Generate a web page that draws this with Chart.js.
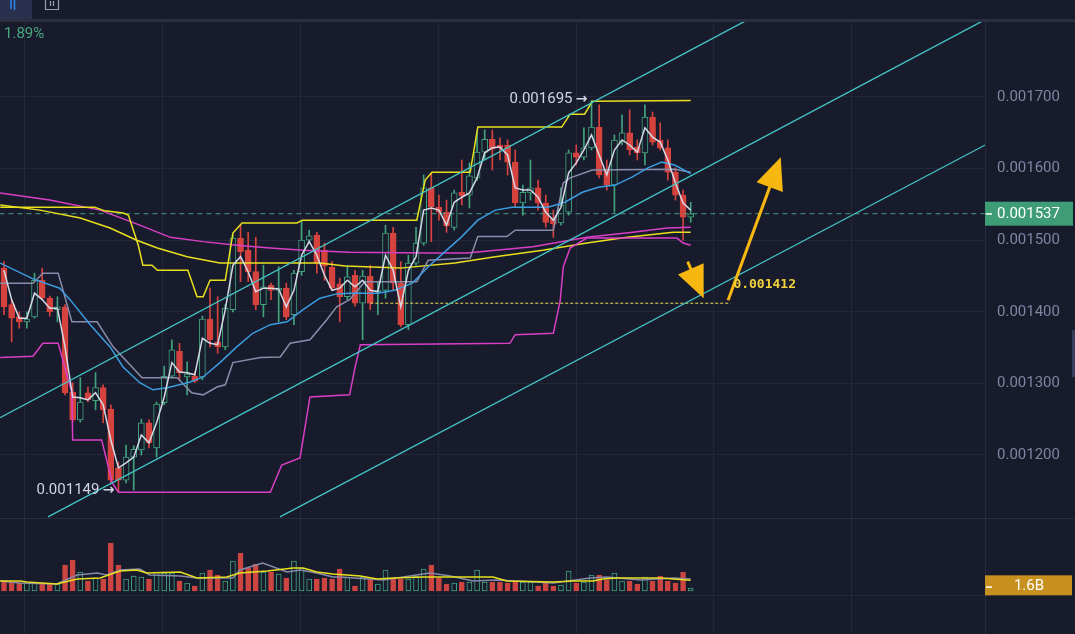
<!DOCTYPE html>
<html>
<head>
<meta charset="utf-8">
<script src="https://cdn.jsdelivr.net/npm/chart.js@4.4.1/dist/chart.umd.min.js"></script>
<style>
  html, body { margin: 0; padding: 0; background: #181b2c; }
  canvas { display: block; }
</style>
</head>
<body>
<canvas id="chart" width="1075" height="634"></canvas>
<script>
// prices are kept in millionths (1537 -> 0.001537), volume in billions
const open = [1461,1410,1393,1386,1393,1444,1419,1403,1407,1288,
  1249,1287,1276,1294,1264,1182,1165,1197,1207,1245,
  1210,1273,1310,1345,1309,1310,1309,1390,1358,1351,
  1403,1503,1486,1456,1410,1437,1430,1433,1396,1456,
  1500,1507,1486,1462,1439,1421,1451,1412,1450,1428,
  1430,1510,1440,1382,1468,1496,1573,1546,1539,1518,
  1567,1563,1587,1623,1641,1633,1633,1609,1552,1566,
  1573,1552,1530,1524,1539,1622,1616,1629,1658,1598,
  1577,1637,1650,1630,1622,1672,1640,1629,1595,1563,
  1532];
const close = [1407,1391,1386,1390,1444,1419,1400,1407,1287,1249,
  1274,1277,1294,1263,1165,1165,1197,1208,1245,1217,
  1271,1310,1347,1315,1313,1303,1390,1361,1351,1405,
  1503,1484,1456,1410,1435,1430,1433,1393,1454,1500,
  1506,1468,1464,1433,1421,1449,1412,1450,1412,1430,
  1510,1440,1382,1468,1496,1573,1546,1539,1520,1566,
  1562,1590,1623,1641,1627,1629,1609,1552,1567,1573,
  1552,1525,1523,1549,1622,1616,1629,1658,1591,1577,
  1640,1650,1626,1622,1672,1637,1629,1595,1563,1532,
  1537];
const high = [1470,1417,1400,1400,1454,1461,1422,1421,1410,1301,
  1308,1295,1315,1298,1270,1190,1214,1213,1250,1249,
  1274,1324,1361,1356,1330,1316,1394,1433,1421,1410,
  1507,1521,1511,1504,1465,1440,1463,1440,1458,1528,
  1514,1511,1496,1470,1447,1465,1458,1458,1465,1442,
  1521,1518,1470,1479,1518,1591,1594,1563,1556,1570,
  1612,1608,1651,1654,1654,1643,1640,1626,1577,1612,
  1584,1563,1542,1573,1626,1633,1657,1695,1689,1612,
  1647,1675,1682,1640,1689,1679,1664,1640,1601,1570,
  1553];
const low = [1396,1358,1377,1377,1391,1417,1394,1386,1284,1246,
  1246,1274,1263,1245,1161,1149,1161,1151,1200,1210,
  1197,1270,1308,1305,1284,1301,1305,1351,1342,1347,
  1400,1442,1442,1403,1393,1417,1386,1389,1382,1451,
  1498,1454,1444,1430,1386,1417,1408,1361,1403,1396,
  1419,1430,1379,1375,1465,1493,1498,1528,1511,1514,
  1549,1545,1584,1612,1598,1612,1591,1546,1535,1556,
  1542,1518,1504,1521,1535,1605,1612,1626,1587,1570,
  1539,1633,1619,1612,1605,1633,1626,1584,1556,1500,
  1525];
const volume = [1.5,1.35,1.2,1.2,1.2,1.2,1.2,1.05,3.9,4.65,
  2.85,1.5,1.95,1.8,7.2,3.9,1.8,2.25,2.1,1.8,
  2.85,2.7,2.7,1.5,1.2,0.75,2.7,3.15,2.4,1.5,
  4.5,5.7,3.45,4.05,2.85,2.85,2.55,1.95,4.5,3.45,
  1.8,1.8,1.95,1.8,3.3,2.1,0.75,2.1,1.8,1.05,
  3.15,1.8,1.8,1.8,2.25,3.3,3.9,1.95,1.05,1.2,
  1.35,1.35,3.15,1.35,1.35,1.35,1.2,1.35,1.35,1.35,
  0.75,1.2,0.75,0.9,3.0,1.2,1.35,2.4,2.4,1.65,
  2.7,1.5,1.5,1.05,2.1,1.5,2.25,1.5,1.2,2.85,
  0.45];

// fast moving average (white), one value per bar
const maFast = [1458,1417,1391,1391,1426,1417,1405,1405,1351,1281,
  1280,1277,1287,1270,1221,1182,1189,1197,1228,1217,
  1245,1281,1329,1316,1315,1312,1363,1356,1354,1403,
  1465,1477,1456,1428,1433,1433,1432,1407,1430,1479,
  1498,1479,1451,1430,1433,1444,1435,1444,1430,1428,
  1479,1458,1407,1458,1477,1542,1545,1542,1521,1553,
  1560,1566,1587,1622,1629,1630,1619,1573,1570,1570,
  1560,1539,1528,1546,1594,1608,1626,1647,1619,1591,
  1626,1640,1633,1623,1657,1644,1637,1612,1580,1552,
  1542];

// indicator readings: bar position -> value
const maMidX = [-0.5,3.8,7.3,8.65,11.3,13.9,15.6,17.8,19.5,21.4,24.4,26.1,28.3,30.5,32.6,34.9,37.1,39.2,41.4,43.6,45.3,49,51.2,53.5,55.6,57.8,60,62.1,64.4,66.6,71.3,73.5,75.8,77.9,80.1,82.3,84.4,86.2,87.9,90];
const maMidY = [1468,1446,1433,1417,1382,1351,1323,1301,1291,1294,1302,1309,1329,1351,1370,1382,1386,1403,1419,1425,1426,1426,1430,1440,1463,1484,1505,1528,1542,1546,1546,1553,1567,1574,1577,1588,1601,1609,1605,1593];
const baseX = [-0.5,3.8,5.1,7.1,8.9,12.2,14.3,18.1,22.7,24.6,26.1,27.9,29.0,30.0,33.6,36.2,37.5,40.1,42.3,43.6,45.3,47.3,54.1,55.6,61.1,62.1,65.9,67.0,72.0,73.3,74.2,77.1,87.9,90];
const baseY = [1440,1440,1454,1454,1386,1386,1351,1308,1308,1287,1284,1295,1298,1329,1336,1337,1356,1361,1389,1407,1417,1442,1442,1472,1475,1505,1505,1514,1514,1580,1587,1598,1599,1595];
const donHiX = [-0.5,11.9,13.2,15.6,16.3,17.6,18.2,19.4,20.1,24.1,25.3,26.1,27.0,29.0,30.0,31.2,38.4,39.1,54.1,55.2,56.1,61.1,62.1,73.1,74.2,76.1,77.1,90];
const donHiY = [1546,1546,1541,1538,1535,1493,1465,1465,1458,1458,1421,1421,1444,1444,1510,1524,1524,1528,1528,1584,1595,1595,1658,1658,1676,1676,1694,1695];
const donLoX = [-0.5,3.8,5.1,7.1,8.9,9.0,12.8,14.2,15,34.9,36.4,38.8,40.1,45.3,46,46.7,66.3,67,72,72.9,73.3,74.2,76.4,88.2,89,90];
const donLoY = [1336,1338,1356,1356,1287,1221,1221,1161,1148,1148,1186,1196,1281,1284,1322,1354,1356,1368,1370,1416,1463,1489,1503,1503,1496,1493];
const maSlowX = [-0.5,4.7,10,13.9,17.4,20.1,24,28.3,41.4,44.7,51.9,59.1,64.4,70.6,76.4,81.7,87.7,90];
const maSlowY = [1549,1542,1531,1517,1500,1489,1477,1468,1468,1464,1461,1468,1477,1486,1496,1504,1511,1511];
const maLongX = [-0.5,6,12.6,17.8,21.8,26.1,30.5,34.9,39.2,45.3,55.6,60.7,69.3,76.4,82.4,86.9,90];
const maLongY = [1566,1556,1542,1521,1504,1498,1493,1489,1486,1483,1482,1482,1491,1504,1511,1517,1518];

const volMaX = [-0.5,2.1,3.0,6.9,9.6,12.6,15.2,17.4,18.7,23.1,25.3,29.2,30.9,34.5,37.9,39.2,41.0,43.1,46.7,48.9,51.0,54.9,59.4,64.1,65.9,72.0,74.6,77.2,78.5,80.3,86.0,90];
const volMaY = [1.5,1.5,1.35,1.05,1.8,1.95,3.0,3.15,2.7,2.85,1.95,2.1,2.7,3.0,3.45,3.45,2.85,2.55,2.25,1.8,1.95,2.1,2.1,2.1,1.5,1.35,1.5,1.5,1.8,1.95,1.95,1.6];
const volMa2X = [-0.5,2.1,6.9,9.6,12.2,13.5,15.2,17.8,19.1,23.1,25.3,30.0,30.9,33.9,37.1,38.8,41.0,43.1,44.0,49.7,55.8,58.5,61.5,64.6,72.0,76.8,79.0,83.4,87.7,90];
const volMa2Y = [1.5,1.2,1.05,2.4,2.7,2.4,3.15,3.3,2.4,2.25,1.95,1.95,3.15,4.2,2.85,3.15,2.7,2.1,2.1,1.65,2.7,2.25,1.5,1.65,1.2,1.95,2.1,1.65,1.95,1.8];

// hand-drawn channel and arrows (bar position, price)
const chanAX = [-0.52, 97.5],  chanAY = [1252, 1808];
const chanBX = [5.77, 128.6],  chanBY = [1113.5, 1808];
const chanCX = [36.17, 128.6], chanCY = [1113.5, 1633];
const arrowDownX = [89.6, 91.7], arrowDownY = [1470, 1419];
const arrowUpX = [94.9, 101.8],  arrowUpY = [1416, 1616];
const targetLevel = 1412, targetX = [48, 95.2];

const priceTicks = [1200, 1300, 1400, 1500, 1600, 1700];
const timeGrid = [2.75, 20.8, 38.9, 56.9, 75.0, 93.0, 111.1];

const BG = '#181b2c', GRID = '#232739';
const UP = '#41a37c', DOWN = '#d6433e';
const PANE_SPLIT = 518;

const idx = close.map((_, i) => i);
const up = i => close[i] >= open[i];
const pts = (xs, ys) => xs.map((x, k) => ({ x, y: ys[k] }));
const lastPrice = close[close.length - 1];
const fmt = v => (v / 1e6).toFixed(6);

function lineDs(data, color, width, order, extra) {
  return Object.assign({
    type: 'line', data, borderColor: color, borderWidth: width,
    pointRadius: 0, fill: false, tension: 0, order, yAxisID: 'y'
  }, extra || {});
}

function drawArrow(c, x1, y1, x2, y2, color) {
  const dx = x2 - x1, dy = y2 - y1, len = Math.hypot(dx, dy);
  const ux = dx / len, uy = dy / len;
  const headL = 32, headW = 14;
  const bx = x2 - ux * headL, by = y2 - uy * headL;
  c.strokeStyle = color; c.fillStyle = color; c.lineWidth = 3;
  c.beginPath(); c.moveTo(x1, y1); c.lineTo(bx + ux * 3, by + uy * 3); c.stroke();
  c.beginPath();
  c.moveTo(x2, y2);
  c.lineTo(bx - uy * headW, by + ux * headW);
  c.lineTo(bx + uy * headW, by - ux * headW);
  c.closePath(); c.fill();
}

function markText(c, text, xRight, y) {
  c.textAlign = 'right';
  c.font = '15px Roboto';
  c.fillText(text, xRight - 15, y);
  c.font = 'bold 14px "DejaVu Sans"';
  c.fillText('\u2192', xRight, y);
}

const overlay = {
  id: 'overlay',
  beforeDraw(chart) {
    const c = chart.ctx;
    c.save(); c.fillStyle = BG; c.fillRect(0, 0, chart.width, chart.height); c.restore();
  },
  afterDraw(chart) {
    const c = chart.ctx, sx = chart.scales.x, sy = chart.scales.y, sv = chart.scales.yv;
    const right = chart.chartArea.right;
    c.save();

    // pane lines
    c.strokeStyle = '#2a2e41'; c.lineWidth = 1;
    c.beginPath(); c.moveTo(0, PANE_SPLIT + 0.5); c.lineTo(chart.width, PANE_SPLIT + 0.5); c.stroke();
    c.strokeStyle = GRID;
    c.beginPath(); c.moveTo(0, 595.5); c.lineTo(right, 595.5); c.stroke();

    // arrows
    drawArrow(c, sx.getPixelForValue(arrowDownX[0]), sy.getPixelForValue(arrowDownY[0]),
      sx.getPixelForValue(arrowDownX[1]), sy.getPixelForValue(arrowDownY[1]), '#f6b711');
    drawArrow(c, sx.getPixelForValue(arrowUpX[0]), sy.getPixelForValue(arrowUpY[0]),
      sx.getPixelForValue(arrowUpX[1]), sy.getPixelForValue(arrowUpY[1]), '#f6b711');

    // high / low markers
    let hi = 0, lo = 0;
    idx.forEach(i => { if (high[i] > high[hi]) hi = i; if (low[i] < low[lo]) lo = i; });
    c.fillStyle = '#d1d4e2'; c.textBaseline = 'middle';
    markText(c, fmt(high[hi]), sx.getPixelForValue(hi) - 4, sy.getPixelForValue(high[hi]) - 1);
    markText(c, fmt(low[lo]), sx.getPixelForValue(lo) - 4, sy.getPixelForValue(low[lo]) - 1);

    // target label
    c.font = 'bold 13px "DejaVu Sans Mono"'; c.fillStyle = '#f2d23a'; c.textAlign = 'left';
    c.fillText(fmt(targetLevel), sx.getPixelForValue(targetX[1]) + 3, sy.getPixelForValue(targetLevel) - 19);

    // price label on the axis
    const py = sy.getPixelForValue(lastPrice);
    c.fillStyle = '#3e9c77'; c.fillRect(right, py - 12, 88, 24);
    c.fillStyle = '#ffffff'; c.fillRect(right + 1, py - 0.5, 6, 1.5);
    c.font = '15px Roboto'; c.textAlign = 'left';
    c.fillText(fmt(lastPrice), right + 12, py + 0.5);

    // volume label
    const vy = sv.getPixelForValue(volMaY[volMaY.length - 1]) + 5;
    c.fillStyle = '#c8901f'; c.fillRect(right, vy - 10, 87, 20);
    c.fillStyle = '#ffffff'; c.fillRect(right + 1, vy + 1, 6, 1.5);
    c.textAlign = 'center';
    c.fillText(volMaY[volMaY.length - 1].toFixed(1) + 'B', right + 44, vy + 0.5);

    // top toolbar
    c.fillStyle = BG; c.fillRect(0, 0, chart.width, 20);
    c.fillStyle = '#29314f'; c.fillRect(0, 0, 32, 20);
    c.strokeStyle = '#2a2e41'; c.beginPath(); c.moveTo(0, 20.5); c.lineTo(chart.width, 20.5); c.stroke();
    c.strokeStyle = '#2f86f0'; c.lineWidth = 1.5;
    c.beginPath(); c.moveTo(11, 0); c.lineTo(11, 9); c.moveTo(14.5, 0); c.lineTo(14.5, 10); c.stroke();
    c.strokeStyle = '#9a9db0'; c.lineWidth = 1.2;
    c.beginPath(); c.moveTo(45.5, -2); c.lineTo(45.5, 9.5); c.lineTo(58.5, 9.5); c.lineTo(58.5, -2); c.stroke();
    c.beginPath(); c.moveTo(50.5, 1); c.lineTo(50.5, 6); c.moveTo(53.5, 1); c.lineTo(53.5, 6); c.stroke();

    c.font = '15px Roboto'; c.fillStyle = '#48a77f'; c.textAlign = 'left';
    c.fillText('1.89%', 4, 34);

    // right edge tab
    c.fillStyle = '#383d5c'; c.fillRect(1072, 330, 3, 47);
    c.restore();
  }
};

new Chart(document.getElementById('chart').getContext('2d'), {
  type: 'bar',
  data: {
    datasets: [
      { type: 'bar', data: idx.map(i => ({ x: i, y: [low[i], high[i]] })),
        backgroundColor: idx.map(i => up(i) ? UP : DOWN), borderWidth: 0,
        barThickness: 1, grouped: false, order: 30, yAxisID: 'y' },
      { type: 'bar', data: idx.map(i => ({ x: i, y: [open[i], close[i]] })),
        backgroundColor: idx.map(i => up(i) ? BG : DOWN),
        borderColor: idx.map(i => up(i) ? UP : DOWN), borderWidth: 1, borderSkipped: false,
        barThickness: 6, minBarLength: 1, grouped: false, order: 20, yAxisID: 'y' },
      { type: 'bar', data: idx.map(i => ({ x: i, y: volume[i] })),
        backgroundColor: idx.map(i => up(i) ? BG : '#cc4541'),
        borderColor: idx.map(i => up(i) ? UP : '#cc4541'), borderWidth: 1, borderSkipped: false,
        barThickness: 5, grouped: false, order: 25, yAxisID: 'yv' },

      lineDs(pts(volMa2X, volMa2Y), '#8689a8', 1.5, 19, { yAxisID: 'yv' }),
      lineDs(pts(volMaX, volMaY), '#e8df1e', 1.5, 18, { yAxisID: 'yv' }),

      lineDs(pts([-0.6, 128.6], [lastPrice, lastPrice]), '#4a9e84', 1, 17, { borderDash: [5, 4] }),
      lineDs(pts(targetX, [targetLevel, targetLevel]), '#ebdc5a', 1, 16, { borderDash: [3, 2] }),
      lineDs(pts(maLongX, maLongY), '#d93fc6', 1.5, 15),
      lineDs(pts(maSlowX, maSlowY), '#e8df1e', 1.5, 14),
      lineDs(pts(donLoX, donLoY), '#d93fc6', 1.5, 13),
      lineDs(pts(donHiX, donHiY), '#e8df1e', 1.5, 12),
      lineDs(pts(baseX, baseY), '#8a8cab', 1.5, 11),
      lineDs(pts(maMidX, maMidY), '#3b9ce0', 1.5, 10),
      lineDs(pts(idx, maFast), '#d5d9e6', 1.5, 9),
      lineDs(pts(chanAX, chanAY), '#44c3c3', 1.3, 5),
      lineDs(pts(chanBX, chanBY), '#44c3c3', 1.3, 5),
      lineDs(pts(chanCX, chanCY), '#44c3c3', 1.3, 5)
    ]
  },
  options: {
    responsive: false,
    animation: false,
    events: [],
    layout: { padding: 0, autoPadding: false },
    plugins: { legend: { display: false }, tooltip: { enabled: false } },
    scales: {
      x: {
        type: 'linear', min: -0.524, max: 128.57, offset: false,
        grid: { color: GRID, offset: false, drawTicks: false },
        border: { display: false },
        ticks: { display: false },
        afterBuildTicks: s => { s.ticks = timeGrid.map(v => ({ value: v })); },
        afterFit: s => { s.height = 0; s.paddingLeft = 0; s.paddingRight = 0; }
      },
      y: {
        position: 'right', min: 950, max: 1835.47,
        grid: { color: GRID, drawTicks: false },
        border: { color: '#262a3c' },
        ticks: { color: '#7f84a1', font: { family: 'Roboto', size: 15 }, padding: 12, callback: v => fmt(v) },
        afterBuildTicks: s => { s.ticks = priceTicks.map(v => ({ value: v })); },
        afterFit: s => { s.width = 90; s.paddingTop = 0; s.paddingBottom = 0; }
      },
      yv: { display: false, min: -6.45, max: 88.65 }
    }
  },
  plugins: [overlay]
});
</script>
</body>
</html>
